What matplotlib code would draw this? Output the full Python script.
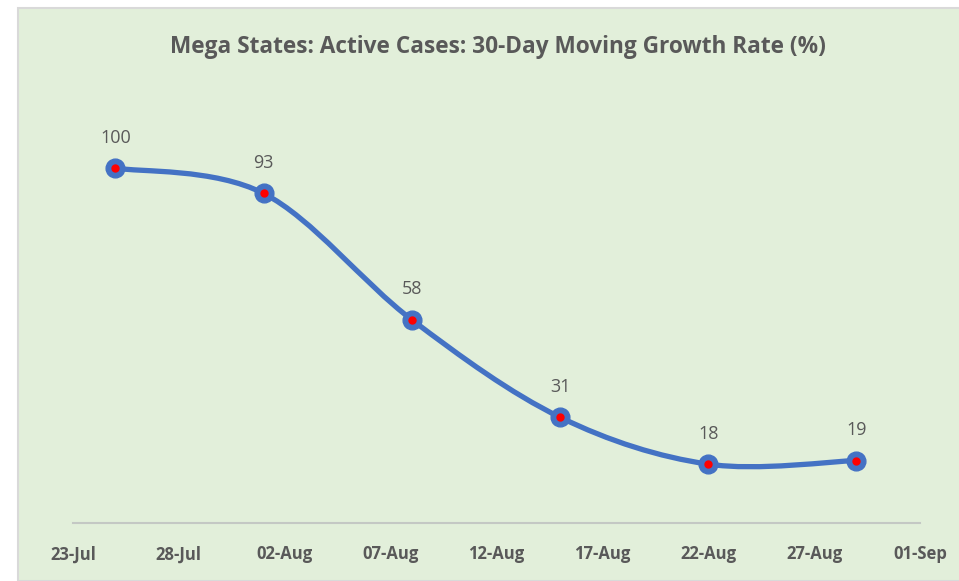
import numpy as np
import pandas as pd
import matplotlib
matplotlib.use("Agg")
import matplotlib.pyplot as plt
import matplotlib.dates as mdates
from matplotlib.path import Path
from matplotlib.patches import PathPatch, Rectangle

dates = ["2020-07-25", "2020-08-01", "2020-08-08", "2020-08-15", "2020-08-22", "2020-08-29"]
growth = [100, 93, 58, 31, 18, 19]
tick_dates = pd.date_range("2020-07-23", "2020-09-01", freq="5D")

plt.rcParams['font.family'] = ['Open Sans', 'DejaVu Sans']
txt = '#595959'
bg = '#E2EFDA'
blue = '#4472C4'

fig = plt.figure(figsize=(9.59, 5.81), dpi=100)
fig.patch.set_facecolor('white')
W, H = 959, 581
# chart area (cropped on the right and bottom like the reference)
fig.patches.append(Rectangle((18 / W, 0), 1, 1 - 8 / H, transform=fig.transFigure,
                             facecolor=bg, edgecolor='#D9D9D9', linewidth=1.5, zorder=-1))

ax = fig.add_axes([73 / W, 1 - 523 / H, (920 - 73) / W, (523 - 97) / H])
ax.set_facecolor('none')
ax.set_zorder(1)

x = mdates.date2num(pd.to_datetime(dates))
y = np.array(growth, dtype=float)

# smoothed line (bezier segments like a spreadsheet "smoothed line")
verts = [(x[0], y[0])]
codes = [Path.MOVETO]
n = len(x)
for i in range(n - 1):
    p0 = np.array([x[max(i - 1, 0)], y[max(i - 1, 0)]])
    p1 = np.array([x[i], y[i]])
    p2 = np.array([x[i + 1], y[i + 1]])
    p3 = np.array([x[min(i + 2, n - 1)], y[min(i + 2, n - 1)]])
    c1 = p1 + (p2 - p0) / 6
    c2 = p2 - (p3 - p1) / 6
    verts += [tuple(c1), tuple(c2), tuple(p2)]
    codes += [Path.CURVE4] * 3
ax.add_patch(PathPatch(Path(verts, codes), fill=False, edgecolor=blue, linewidth=3.8,
                       capstyle='round', joinstyle='round', zorder=2))

ax.plot(x, y, linestyle='none', marker='o', markersize=13.5, color=blue, zorder=3)
ax.plot(x, y, linestyle='none', marker='o', markersize=5, color='red', zorder=4)

for xi, yi, v in zip(x, y, growth):
    ax.annotate(str(v), (xi, yi), xytext=(0, 22), textcoords='offset points',
                ha='center', va='center', fontsize=13, color=txt)

ax.set_xlim(mdates.date2num(tick_dates[0]), mdates.date2num(tick_dates[-1]))
ax.set_ylim(1.7, 119.7)
ax.set_xticks(mdates.date2num(tick_dates))
ax.set_xticklabels([d.strftime("%d-%b") for d in tick_dates], fontsize=12,
                   fontweight='bold', color=txt)
ax.tick_params(axis='x', length=0, pad=16)
ax.set_yticks([])
for s in ['top', 'right', 'left']:
    ax.spines[s].set_visible(False)
ax.spines['bottom'].set_color('#C4C8C4')
ax.spines['bottom'].set_linewidth(1.5)

fig.text(498 / W, 1 - 47 / H, "Mega States: Active Cases: 30-Day Moving Growth Rate (%)",
         ha='center', va='center', fontsize=16.3, fontweight='bold', color=txt)

fig.savefig("out.png", dpi=100)
